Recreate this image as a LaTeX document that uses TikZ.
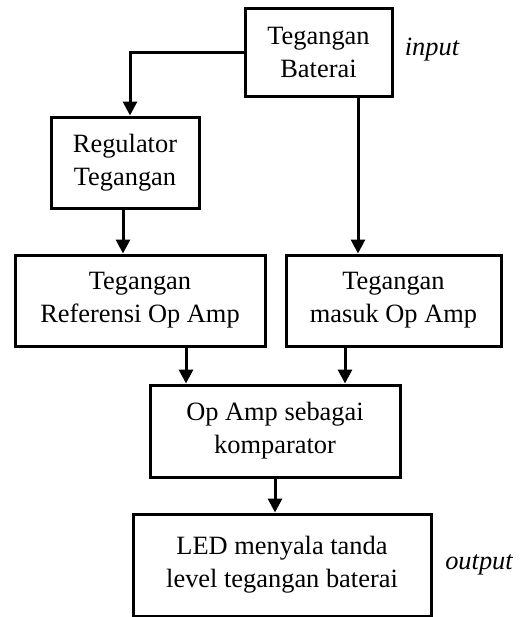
\documentclass[tikz,border=0pt]{standalone}
\usepackage{fontspec}
\setmainfont{Liberation Serif}
\usetikzlibrary{arrows.meta,calc}
\begin{document}
\begin{tikzpicture}[x=0.5pt,y=-0.5pt,
  blk/.style={draw,line width=1.5pt,rectangle,align=center,inner sep=0pt,
    font=\fontsize{13.2pt}{16.5pt}\selectfont},
  lbl/.style={font=\fontsize{13.2pt}{16.5pt}\selectfont\itshape,inner sep=0pt},
  conn/.style={line width=1.5pt,-{Triangle[width=7pt,length=7pt]}}]
\useasboundingbox (0,0) rectangle (522,617);
\node[blk,minimum width=73.5pt,minimum height=44pt] (b1) at (318.5,52) {Tegangan\\Baterai};
\node[blk,minimum width=74pt,minimum height=45.5pt] (b2) at (125,162.5) {Regulator\\Tegangan};
\node[blk,minimum width=125pt,minimum height=45.5pt] (b3) at (140,300.5) {Tegangan\\Referensi Op Amp};
\node[blk,minimum width=107.5pt,minimum height=45.5pt] (b4) at (393.5,300.5) {Tegangan\\masuk Op Amp};
\node[blk,minimum width=125pt,minimum height=46pt] (b5) at (275,431) {Op Amp sebagai\\komparator};
\node[blk,minimum width=149pt,minimum height=51pt] (b6) at (282,565) {LED menyala tanda\\level tegangan baterai};
\node[lbl] (in) at (432,50) {input};
\node[lbl] (out) at (479,565) {output};
\draw[conn] (b1.west) -| ([xshift=2.5pt]b2.north);
\draw[conn] ([xshift=19.75pt]b1.south) -- ([xshift=19.75pt]b1.south |- b4.north);
\draw[conn] ([xshift=-1pt]b2.south) -- ([xshift=-1pt]b2.south |- b3.north);
\draw[conn] ([xshift=23pt]b3.south) -- ([xshift=23pt]b3.south |- b5.north);
\draw[conn] ([xshift=-24.25pt]b4.south) -- ([xshift=-24.25pt]b4.south |- b5.north);
\draw[conn] (b5.south) -- (b5.south |- b6.north);
\end{tikzpicture}
\end{document}
